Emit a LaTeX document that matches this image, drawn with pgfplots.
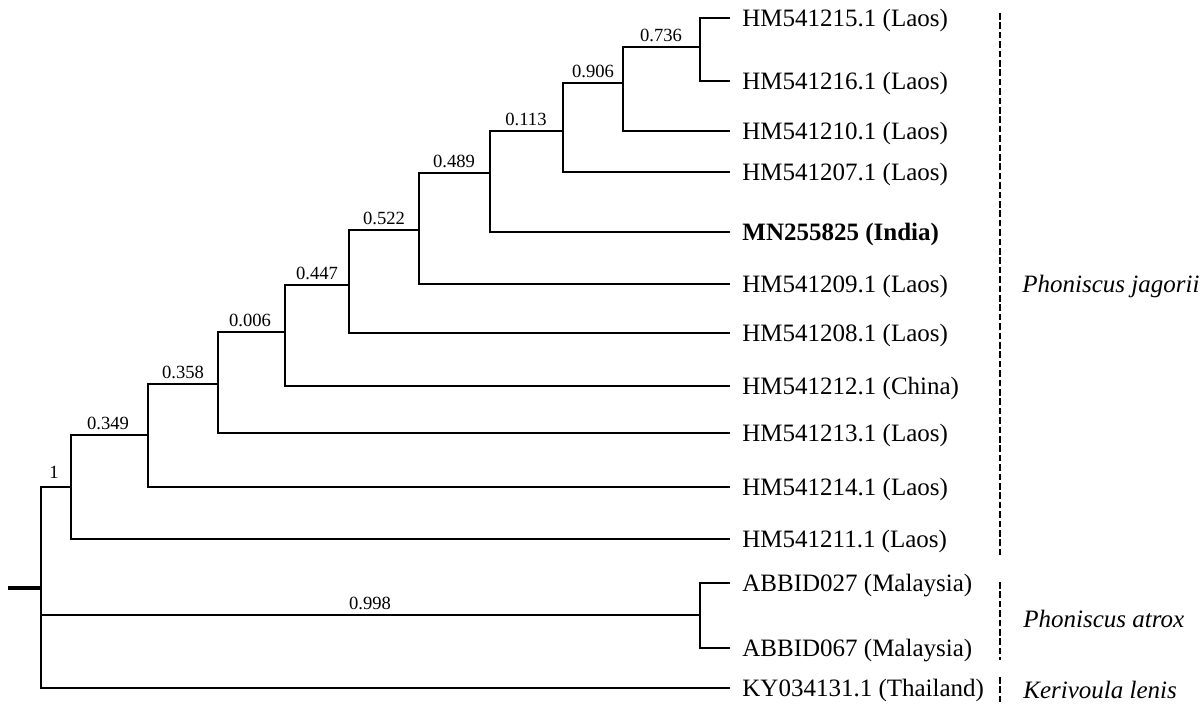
\documentclass[border=0pt]{standalone}
\usepackage{pgfplots}
\pgfplotsset{compat=1.18}
\usepackage{fontspec}
\setmainfont{Liberation Serif}
\tikzset{
  br/.style={black, solid, no markers, line width=1.3pt},
  bar/.style={black, no markers, line width=1.4pt, dash pattern=on 3.3pt off 1.4pt},
  tip/.style={anchor=base west, font=\fontsize{12.5}{15}\selectfont, yshift=-4.1pt, inner sep=0pt},
  sup/.style={anchor=base, font=\fontsize{9.3}{11}\selectfont, yshift=2.8pt, inner sep=0pt},
  clade/.style={anchor=base west, font=\fontsize{12.5}{15}\selectfont\itshape, inner sep=0pt},
}
\begin{document}
\begin{tikzpicture}
\begin{axis}[
  scale only axis, width=601.5pt, height=353pt,
  xmin=0, xmax=1203, ymin=0, ymax=706, y dir=reverse,
  hide axis, clip=false,
]
\addplot[draw=none] coordinates {(0,0) (1203,706)};
% internal node elbows
% A 0.736
\addplot[br] coordinates {(730,18) (700,18) (700,81) (730,81)};
% B 0.906
\addplot[br] coordinates {(700,47) (623,47) (623,131) (730,131)};
% C 0.113
\addplot[br] coordinates {(623,83) (563,83) (563,172) (730,172)};
% D 0.489
\addplot[br] coordinates {(563,131) (490,131) (490,232) (730,232)};
% E 0.522
\addplot[br] coordinates {(490,173) (419,173) (419,284) (730,284)};
% F 0.447
\addplot[br] coordinates {(419,230) (349,230) (349,333) (730,333)};
% G 0.006
\addplot[br] coordinates {(349,285) (285,285) (285,386) (730,386)};
% H 0.358
\addplot[br] coordinates {(285,332) (218,332) (218,433) (730,433)};
% I 0.349
\addplot[br] coordinates {(218,384) (148,384) (148,487) (730,487)};
% J 1
\addplot[br] coordinates {(148,435) (71,435) (71,539) (730,539)};
% K 0.998
\addplot[br] coordinates {(730,583) (700,583) (700,648) (730,648)};
% root
\addplot[br] coordinates {(71,487) (41,487) (41,688) (730,688)};
\addplot[br] coordinates {(41,615) (700,615)};
\addplot[br, line width=2.2pt] coordinates {(8,588) (41,588)};
% clade bars
\addplot[bar] coordinates {(1000,13) (1000,557)};
\addplot[bar] coordinates {(1000,582) (1000,660)};
\addplot[bar] coordinates {(1000,677) (1000,704)};
% tip labels
\node[tip] at (axis cs:742,18) {HM541215.1 (Laos)};
\node[tip] at (axis cs:742,81) {HM541216.1 (Laos)};
\node[tip] at (axis cs:742,131) {HM541210.1 (Laos)};
\node[tip] at (axis cs:742,172) {HM541207.1 (Laos)};
\node[tip] at (axis cs:742,232) {\bfseries MN255825 (India)};
\node[tip] at (axis cs:742,284) {HM541209.1 (Laos)};
\node[tip] at (axis cs:742,333) {HM541208.1 (Laos)};
\node[tip] at (axis cs:742,386) {HM541212.1 (China)};
\node[tip] at (axis cs:742,433) {HM541213.1 (Laos)};
\node[tip] at (axis cs:742,487) {HM541214.1 (Laos)};
\node[tip] at (axis cs:742,539) {HM541211.1 (Laos)};
\node[tip] at (axis cs:742,583) {ABBID027 (Malaysia)};
\node[tip] at (axis cs:742,648) {ABBID067 (Malaysia)};
\node[tip] at (axis cs:742,688) {KY034131.1 (Thailand)};
% support values
\node[sup] at (axis cs:661,47) {0.736};
\node[sup] at (axis cs:593,83) {0.906};
\node[sup] at (axis cs:526,131) {0.113};
\node[sup] at (axis cs:454,173) {0.489};
\node[sup] at (axis cs:384,230) {0.522};
\node[sup] at (axis cs:317,285) {0.447};
\node[sup] at (axis cs:250,332) {0.006};
\node[sup] at (axis cs:183,384) {0.358};
\node[sup] at (axis cs:108,435) {0.349};
\node[sup, yshift=1.6pt] at (axis cs:54,487) {1};
\node[sup] at (axis cs:370,615) {0.998};
% clade names
\node[clade] at (axis cs:1022,292) {Phoniscus jagorii};
\node[clade] at (axis cs:1023,627) {Phoniscus atrox};
\node[clade] at (axis cs:1023,698) {Kerivoula lenis};
\end{axis}
\end{tikzpicture}
\end{document}
